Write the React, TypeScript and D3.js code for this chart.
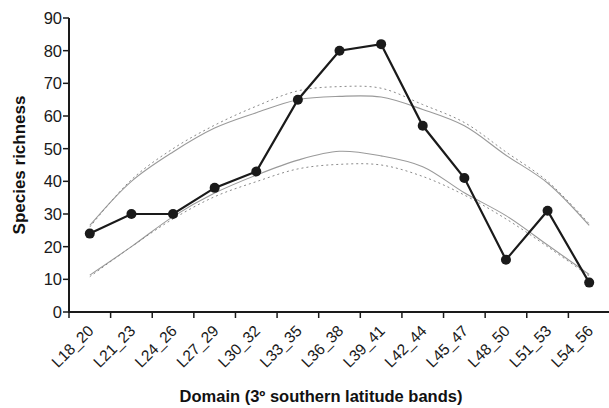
import React from "react";
import * as d3 from "d3";

const categories = ["L18_20","L21_23","L24_26","L27_29","L30_32","L33_35","L36_38","L39_41","L42_44","L45_47","L48_50","L51_53","L54_56"];
const observed = [24, 30, 30, 38, 43, 65, 80, 82, 57, 41, 16, 31, 9];
const upperSolid = [26.5, 40, 49, 56.3, 61, 65, 66, 65.8, 62, 57, 48, 39.5, 26.5];
const upperDotted = [26, 40.5, 50, 57.2, 63, 67.7, 69, 68.5, 63.5, 58, 49, 40, 27];
const lowerSolid = [11.3, 20, 29.2, 36.4, 41.9, 46.5, 49.2, 47.8, 44.5, 36.5, 29.5, 20.5, 11.5];
const lowerDotted = [10.8, 20, 28.5, 35.3, 39.9, 43.8, 45.2, 45, 41.5, 35.8, 28.5, 20, 11];
const yTicks = [0, 10, 20, 30, 40, 50, 60, 70, 80, 90];

const W = 609, H = 408;
const left = 69, right = 610, top = 18, bottom = 312;

export default function App() {
  const x = d3.scaleBand<string>().domain(categories).range([left, right]).padding(0);
  const y = d3.scaleLinear().domain([0, 90]).range([bottom, top]);
  const cx = (c: string) => (x(c) as number) + x.bandwidth() / 2;
  const mkLine = (vals: number[], smooth: boolean) =>
    d3.line<number>()
      .x((_, i) => cx(categories[i]))
      .y((v) => y(v))
      .curve(smooth ? d3.curveCatmullRom.alpha(0.5) : d3.curveLinear)(vals) as string;
  const font = "Liberation Sans, Arial, Helvetica, sans-serif";
  const boundaries = categories.map((c) => x(c) as number).concat([right]);

  return (
    <svg width={W} height={H} style={{ position: "absolute", left: 0, top: 0, background: "#fff" }} fontFamily={font}>
      {/* gray reference curves */}
      <path d={mkLine(upperSolid, true)} fill="none" stroke="#9a9a9a" strokeWidth={1.1} />
      <path d={mkLine(lowerSolid, true)} fill="none" stroke="#9a9a9a" strokeWidth={1.1} />
      <path d={mkLine(upperDotted, true)} fill="none" stroke="#8a8a8a" strokeWidth={1} strokeDasharray="2,3" />
      <path d={mkLine(lowerDotted, true)} fill="none" stroke="#8a8a8a" strokeWidth={1} strokeDasharray="2,3" />
      {/* observed */}
      <path d={mkLine(observed, false)} fill="none" stroke="#1a1a1a" strokeWidth={2.2} />
      {observed.map((v, i) => (
        <circle key={i} cx={cx(categories[i])} cy={y(v)} r={5} fill="#1a1a1a" />
      ))}
      {/* y axis */}
      <line x1={left} x2={left} y1={top} y2={bottom + 1} stroke="#1a1a1a" strokeWidth={2} />
      {yTicks.map((t) => (
        <g key={t}>
          <line x1={left - 6} x2={left} y1={y(t)} y2={y(t)} stroke="#1a1a1a" strokeWidth={1.5} />
          <text x={left - 7} y={y(t)} dy="0.36em" textAnchor="end" fontSize={16.5} fill="#1a1a1a">{t}</text>
        </g>
      ))}
      {/* x axis */}
      <line x1={left - 1} x2={right} y1={bottom} y2={bottom} stroke="#1a1a1a" strokeWidth={2} />
      {boundaries.map((b, i) => (
        <line key={i} x1={b} x2={b} y1={bottom} y2={bottom + 6} stroke="#1a1a1a" strokeWidth={1.5} />
      ))}
      {categories.map((c) => (
        <text key={c} transform={`translate(${cx(c) + 1},${bottom + 16}) rotate(-45)`} textAnchor="end" dy="0.35em" fontSize={15.5} fill="#1a1a1a">{c}</text>
      ))}
      <text transform={`translate(25,165) rotate(-90)`} textAnchor="middle" fontSize={17} fontWeight="bold" fill="#111">Species richness</text>
      <text x={321} y={402} textAnchor="middle" fontSize={16.5} fontWeight="bold" fill="#111">Domain (3º southern latitude bands)</text>
    </svg>
  );
}
